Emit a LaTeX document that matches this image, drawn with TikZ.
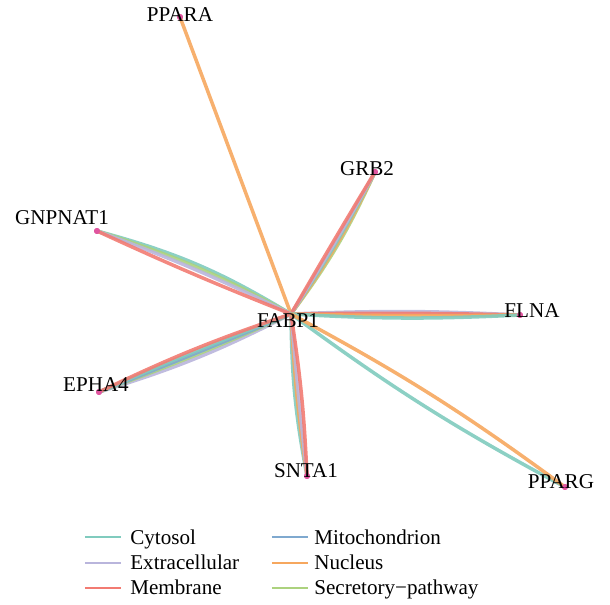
\documentclass[tikz,border=0pt]{standalone}
\usepackage{fontspec}
\setmainfont{Liberation Serif}

\definecolor{cytosol}{HTML}{80CBBE}
\definecolor{extracell}{HTML}{B9B5DC}
\definecolor{membrane}{HTML}{F27B72}
\definecolor{mito}{HTML}{7FA9CF}
\definecolor{nucleus}{HTML}{F6A75E}
\definecolor{secretory}{HTML}{ACD27E}
\definecolor{genedot}{HTML}{E0559F}

\tikzset{
  link/.style={line width=2pt, opacity=0.9},
  gene/.style={circle, fill=genedot, inner sep=0pt, minimum size=3.4pt},
  lbl/.style={font=\fontsize{12}{14}\selectfont, anchor=base, inner sep=0pt},
  keyline/.style={line width=1.2pt},
  keytext/.style={font=\fontsize{12}{14}\selectfont, anchor=base west, inner sep=0pt},
}

\begin{document}
\begin{tikzpicture}[x=0.02cm, y=-0.02cm]
  \useasboundingbox (0,0) rectangle (610,605);

  \coordinate (fabp) at (291,314);
  \node[gene] (ppara) at (180,17) {};
  \node[gene] (grb)   at (375,172) {};
  \node[gene] (gnp)   at (97,231) {};
  \node[gene] (flna)  at (520,315) {};
  \node[gene] (epha)  at (99,392) {};
  \node[gene] (snta)  at (307,476) {};
  \node[gene] (pparg) at (565,487) {};

  % PPARA
  \draw[link, nucleus] (fabp) -- (ppara.center);
  % GRB2
  \draw[link, secretory] (fabp) to[bend left=-6] (grb.center);
  \draw[link, nucleus]   (fabp) to[bend left=-4.5] (grb.center);
  \draw[link, cytosol]   (fabp) to[bend left=-3] (grb.center);
  \draw[link, extracell] (fabp) to[bend left=-1.5] (grb.center);
  \draw[link, membrane]  (fabp) to[bend left=0.5]  (grb.center);
  % GNPNAT1
  \draw[link, cytosol]   (fabp) to[bend left=-8] (gnp.center);
  \draw[link, secretory] (fabp) to[bend left=-5.5]  (gnp.center);
  \draw[link, extracell] (fabp) to[bend left=-3]  (gnp.center);
  \draw[link, membrane]  (fabp) to[bend left=1.5]   (gnp.center);
  % FLNA
  \draw[link, extracell] (fabp) to[bend left=2.5]  (flna.center);
  \draw[link, membrane]  (fabp) to[bend left=1] (flna.center);
  \draw[link, nucleus]   (fabp) to[bend left=-1] (flna.center);
  \draw[link, cytosol]   (fabp) to[bend left=-3] (flna.center);
  % EPHA4
  \draw[link, extracell] (fabp) to[bend left=5]  (epha.center);
  \draw[link, secretory] (fabp) to[bend left=2]  (epha.center);
  \draw[link, mito]      (fabp) to[bend left=0.5]  (epha.center);
  \draw[link, cytosol]   (fabp) to[bend left=-1.5] (epha.center);
  \draw[link, membrane]  (fabp) to[bend left=-3.5] (epha.center);
  % SNTA1
  \draw[link, cytosol]   (fabp) to[bend left=-5] (snta.center);
  \draw[link, nucleus]   (fabp) to[bend left=-2.5] (snta.center);
  \draw[link, extracell] (fabp) to[bend left=-0.5] (snta.center);
  \draw[link, membrane]  (fabp) to[bend left=3]  (snta.center);
  % PPARG
  \draw[link, cytosol]   (fabp) to[bend left=-4] (pparg.center);
  \draw[link, nucleus]   (fabp) to[bend left=4]  (pparg.center);

  \foreach \g in {ppara, grb, gnp, flna, epha, snta, pparg}
    \node[gene] at (\g) {};

  \node[lbl] (fabp-l)  at (288,328) {FABP1};
  \node[lbl] (ppara-l) at (180,22)  {PPARA};
  \node[lbl] (grb-l)   at (367,175) {GRB2};
  \node[lbl] (gnp-l)   at (62,225)  {GNPNAT1};
  \node[lbl] (flna-l)  at (532,317) {FLNA};
  \node[lbl] (epha-l)  at (96,392)  {EPHA4};
  \node[lbl] (snta-l)  at (306,478) {SNTA1};
  \node[lbl] (pparg-l) at (561,488) {PPARG};

  % legend
  \draw[keyline, cytosol]   (85,537) -- (121,537);
  \draw[keyline, extracell] (85,563) -- (121,563);
  \draw[keyline, membrane]  (85,588) -- (121,588);
  \draw[keyline, mito]      (272,537) -- (308,537);
  \draw[keyline, nucleus]   (272,563) -- (308,563);
  \draw[keyline, secretory] (272,588) -- (308,588);
  \node[keytext] (k-cyt) at (130,544) {Cytosol};
  \node[keytext] (k-ext) at (130,570) {Extracellular};
  \node[keytext] (k-mem) at (130,595) {Membrane};
  \node[keytext] (k-mit) at (314,544) {Mitochondrion};
  \node[keytext] (k-nuc) at (314,570) {Nucleus};
  \node[keytext] (k-sec) at (314,595) {Secretory−pathway};
\end{tikzpicture}
\end{document}
